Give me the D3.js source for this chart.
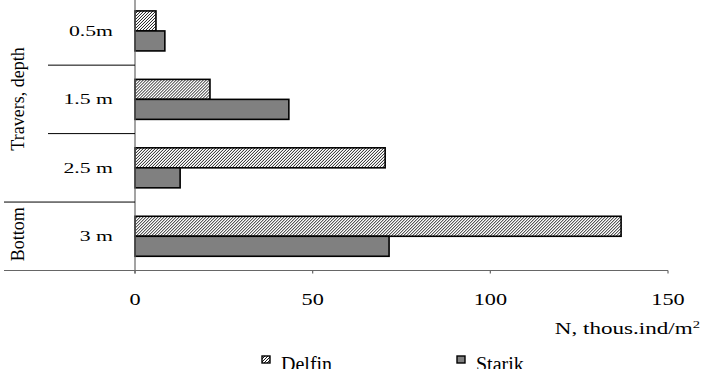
<!DOCTYPE html>
<html>
<head>
<meta charset="utf-8">
<script src="https://cdn.jsdelivr.net/npm/d3@7"></script>
<style>
  body { margin: 0; background: #fff; }
  svg text { font-family: 'Liberation Serif', Tinos, 'DejaVu Serif', serif; fill: #000; }
</style>
</head>
<body>
<div id="graph"></div>
<script>
const width = 703, height = 369;

const categories = ["0.5m", "1.5 m", "2.5 m", "3 m"];
const seriesNames = ["Delfin", "Starik"];
const delfin = [5.9, 21.1, 70.4, 136.8];
const starik = [8.4, 43.3, 12.7, 71.5];
const tickValues = [0, 50, 100, 150];
const groupNames = ["Travers, depth", "Bottom"];
const groupMembers = [["0.5m", "1.5 m", "2.5 m"], ["3 m"]];
const axisTitle = "N, thous.ind/m";

const serif = "'Liberation Serif', Tinos, 'DejaVu Serif', serif";

let svg = d3.select("#graph").
append("svg").
attr("width", width).
attr("height", height).
attr("font-family", serif);

let defs = svg.append("defs");
let hatch = defs.append("pattern").
attr("id", "hatch").
attr("patternUnits", "userSpaceOnUse").
attr("width", 3).
attr("height", 3);
hatch.append("rect").attr("width", 3).attr("height", 3).attr("fill", "#fff");
hatch.append("path").
attr("d", "M-1,1 L1,-1 M0,3 L3,0 M2,4 L4,2").
attr("stroke", "#000").
attr("stroke-width", 0.9);

let x = d3.scaleLinear().
domain([0, 150]).
range([135, 668]);

let y = d3.scaleBand().
domain(categories).
range([-3.3, 270.5]);

let inner = d3.scaleBand().
domain(seriesNames).
range([0, 40]);

const innerOffset = (y.step() - 40) / 2;
const fills = { Delfin: "url(#hatch)", Starik: "#808080" };

let rows = categories.map((c, i) => ({ cat: c, Delfin: delfin[i], Starik: starik[i] }));

// bars
let group = svg.selectAll("g.cat").
data(rows).
enter().
append("g").
attr("class", "cat").
attr("transform", d => `translate(0,${y(d.cat) + innerOffset})`);

group.selectAll("rect").
data(d => seriesNames.map(s => ({ key: s, value: d[s] }))).
enter().
append("rect").
attr("x", x(0)).
attr("y", d => inner(d.key)).
attr("width", d => x(d.value) - x(0)).
attr("height", inner.bandwidth()).
attr("fill", d => fills[d.key]).
attr("stroke", "#000").
attr("stroke-width", 1.6);

// axes lines
const axisColor = "#666";
const bottomY = y.range()[1];
svg.append("line").
attr("x1", 4).attr("x2", x(150)).
attr("y1", bottomY).attr("y2", bottomY).
attr("stroke", axisColor).attr("stroke-width", 1.2);

svg.append("line").
attr("x1", x(0)).attr("x2", x(0)).
attr("y1", 0).attr("y2", bottomY + 3).
attr("stroke", axisColor).attr("stroke-width", 1.2);

svg.selectAll("line.tick").
data(tickValues).
enter().
append("line").
attr("class", "tick").
attr("x1", d => x(d)).attr("x2", d => x(d)).
attr("y1", bottomY).attr("y2", bottomY + 3).
attr("stroke", axisColor).attr("stroke-width", 1.2);

svg.selectAll("text.tick").
data(tickValues).
enter().
append("text").
attr("class", "tick").
attr("transform", d => `translate(${x(d)},${bottomY + 34}) scale(1.35,1)`).
attr("text-anchor", "middle").
style("font-size", "16.5px").
text(d => d);

let title = svg.append("text").
attr("transform", `translate(700,${bottomY + 63}) scale(1.32,1)`).
attr("text-anchor", "end").
style("font-size", "17.5px").
text(axisTitle);
title.append("tspan").
attr("dy", -6).
style("font-size", "11px").
text("2");

// category separators
categories.slice(1).forEach(c => {
  const isGroupEdge = groupMembers.some(g => g[0] === c);
  svg.append("line").
  attr("x1", isGroupEdge ? 4 : 48).attr("x2", x(0)).
  attr("y1", y(c)).attr("y2", y(c)).
  attr("stroke", "#000").attr("stroke-width", 1);
});

// category labels
svg.selectAll("text.cat").
data(categories).
enter().
append("text").
attr("class", "cat").
attr("transform", d => `translate(113,${y(d) + y.bandwidth() / 2 + 5}) scale(1.45,1)`).
attr("text-anchor", "end").
style("font-size", "15px").
text(d => d);

// group labels
groupNames.forEach((g, i) => {
  const m = groupMembers[i];
  const top = y(m[0]), bot = y(m[m.length - 1]) + y.bandwidth();
  svg.append("text").
  attr("transform", `translate(24,${(Math.max(top, 0) + bot) / 2 - 2}) rotate(-90)`).
  attr("text-anchor", "middle").
  style("font-size", "18px").
  text(g);
});

// legend
const legendX = [262, 457];
let legend = svg.selectAll("g.legend").
data(seriesNames).
enter().
append("g").
attr("class", "legend").
attr("transform", (d, i) => `translate(${legendX[i]},356)`);

legend.append("rect").
attr("width", 8).
attr("height", 7).
attr("fill", d => fills[d]).
attr("stroke", "#000").
attr("stroke-width", 1.4);

legend.append("text").
attr("x", 19).
attr("y", 15).
style("font-size", "20px").
text(d => d);
</script>
</body>
</html>
